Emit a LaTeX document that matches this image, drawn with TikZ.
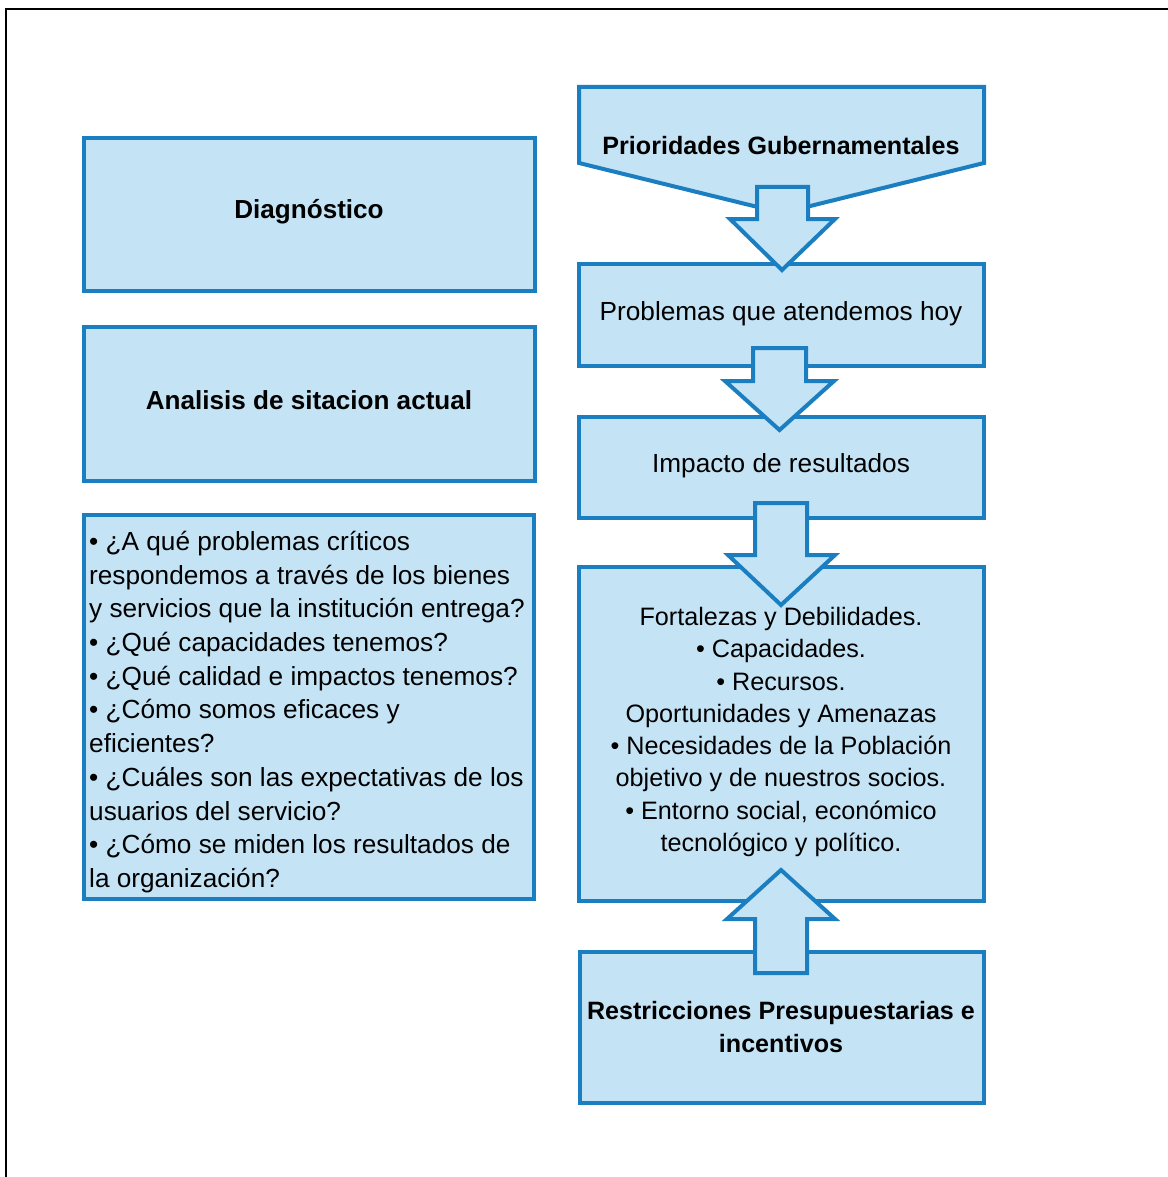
\documentclass[tikz,border=0pt]{standalone}
\usepackage{fontspec}
\setmainfont{Liberation Sans}
\definecolor{lblue}{HTML}{C4E4F6}
\definecolor{bblue}{HTML}{1A7EC1}
\begin{document}
\begin{tikzpicture}[x=1pt,y=-1pt,
  box/.style={draw=bblue,fill=lblue,line width=4pt,inner sep=0pt,outer sep=0pt},
  blk/.style={draw=bblue,fill=lblue,line width=4pt,line join=miter},
  txt/.style={font=\fontsize{26.2}{33.7}\selectfont,align=center,inner sep=0pt},
  btxt/.style={font=\fontsize{25.1}{33}\selectfont\bfseries,align=center,inner sep=0pt},
  bbtxt/.style={font=\fontsize{26.1}{33}\selectfont\bfseries,align=center,inner sep=0pt}]
\useasboundingbox (0,0) rectangle (1167,1177);
\draw[line width=2.5pt,black] (6,1180) -- (6,9) -- (1170,9);
% left column
\node[box,minimum width=451pt,minimum height=153pt] (diag) at (309.5,214.5) {};
\node[bbtxt] (diagt) at (309,212) {Diagnóstico};
\node[box,minimum width=451pt,minimum height=154pt] (anal) at (309.5,404) {};
\node[bbtxt] (analt) at (309,400) {Analisis de sitacion actual};
\node[box,minimum width=450pt,minimum height=384pt] (preg) at (309,707) {};
\node[txt,align=left,anchor=west] (pregt) at (89,712) {• ¿A qué problemas críticos\\respondemos a través de los bienes\\y servicios que la institución entrega?\\• ¿Qué capacidades tenemos?\\• ¿Qué calidad e impactos tenemos?\\• ¿Cómo somos eficaces y\\eficientes?\\• ¿Cuáles son las expectativas de los\\usuarios del servicio?\\• ¿Cómo se miden los resultados de\\la organización?};
% right column
\draw[blk] (579,87) -- (984,87) -- (984,163) -- (782,213) -- (579,163) -- cycle;
\node[btxt] (priot) at (781,146) {Prioridades Gubernamentales};
\node[box,minimum width=405pt,minimum height=102pt] (prob) at (781.5,315) {};
\node[txt] (probt) at (781,314) {Problemas que atendemos hoy};
\node[box,minimum width=405pt,minimum height=101pt] (imp) at (781.5,467) {};
\node[txt] (impt) at (781,466) {Impacto de resultados};
\node[box,minimum width=405pt,minimum height=334pt] (fort) at (781.5,734) {};
\node[txt,font=\fontsize{25.2}{32.3}\selectfont] (fortt) at (781,732) {Fortalezas y Debilidades.\\• Capacidades.\\• Recursos.\\Oportunidades y Amenazas\\• Necesidades de la Población\\objetivo y de nuestros socios.\\• Entorno social, económico\\tecnológico y político.};
\node[box,minimum width=404pt,minimum height=151pt] (rest) at (782,1027.5) {};
\node[btxt] (restt) at (781,1027) {Restricciones Presupuestarias e\\incentivos};
% block arrows
\draw[blk] (757,187) -- (808,187) -- (808,219) -- (835,219) -- (782,270) -- (730,219) -- (757,219) -- cycle;
\draw[blk] (753,348) -- (806,348) -- (806,381) -- (834,381) -- (779.5,430) -- (725,381) -- (753,381) -- cycle;
\draw[blk] (755,503) -- (807,503) -- (807,555) -- (835,555) -- (781,605) -- (728,555) -- (755,555) -- cycle;
\draw[blk] (755,973) -- (807,973) -- (807,919) -- (835,919) -- (781,870) -- (727,919) -- (755,919) -- cycle;
\end{tikzpicture}
\end{document}
